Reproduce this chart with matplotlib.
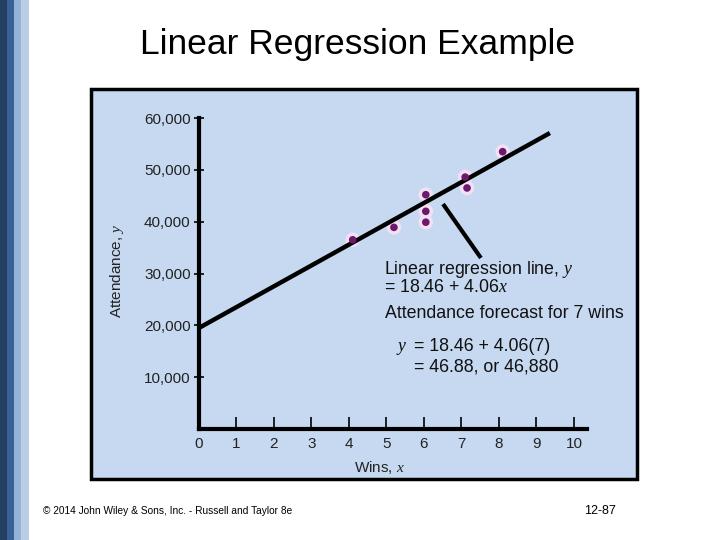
import matplotlib
matplotlib.use("Agg")
import matplotlib.pyplot as plt
from matplotlib.patches import Rectangle

plt.rcParams["font.family"] = ["Liberation Sans", "DejaVu Sans"]
plt.rcParams["mathtext.fontset"] = "custom"
plt.rcParams["mathtext.rm"] = "Liberation Sans"
plt.rcParams["mathtext.it"] = "Liberation Serif:italic"

# data (wins vs attendance)
wins = [4.1, 5.2, 6.05, 6.05, 6.05, 7.1, 7.15, 8.1]
attendance = [36500, 38900, 45200, 42000, 39900, 48600, 46500, 53500]

# regression line end points as drawn
line_x = [0, 9.36]
line_y = [19500, 57100]

x_ticks = list(range(0, 11))
y_ticks = [10000, 20000, 30000, 40000, 50000, 60000]
y_tick_labels = ["10,000", "20,000", "30,000", "40,000", "50,000", "60,000"]

W, H = 720, 540


def px(x, y):
    return x / W, 1 - y / H


fig = plt.figure(figsize=(7.2, 5.4), dpi=100)

# left sidebar stripes
stripes = [(0, 7, "#243f60"), (7, 14, "#3a6195"), (14, 21, "#95b3d7"), (21, 29, "#b9cde5")]
for x0, x1, c in stripes:
    fig.patches.append(Rectangle(px(x0, H), (x1 - x0) / W, 1, transform=fig.transFigure,
                                 facecolor=c, edgecolor="none", zorder=-2))

# light blue panel
fig.patches.append(Rectangle(px(91, 479), (637 - 91) / W, (479 - 89) / H,
                             transform=fig.transFigure, facecolor="#c6d9f1",
                             edgecolor="black", linewidth=2.5, zorder=-2))

ax = fig.add_axes([199 / W, 1 - 429 / H, 388 / W, 311 / H])
ax.patch.set_visible(False)
ax.set_xlim(0, 10.35)
ax.set_ylim(0, 60000)
for s in ["top", "right"]:
    ax.spines[s].set_visible(False)
for s in ["left", "bottom"]:
    ax.spines[s].set_linewidth(3)
    ax.spines[s].set_color("black")

ax.set_xticks(x_ticks)
ax.set_xticklabels([str(v) for v in x_ticks])
ax.set_yticks(y_ticks)
ax.set_yticklabels(y_tick_labels)
ax.tick_params(axis="x", direction="in", length=9, width=1.2, pad=6,
               labelsize=11, labelcolor="#222222")
ax.tick_params(axis="y", direction="inout", length=7, width=1.2, pad=2.5,
               labelsize=11, labelcolor="#222222")

ax.scatter(wins, attendance, s=110, color="#f4e0f4", edgecolors="none", zorder=2, clip_on=False)
ax.plot(line_x, line_y, color="black", linewidth=3.2, solid_capstyle="butt", zorder=3)
ax.scatter(wins, attendance, s=30, color="#6b1a6b", edgecolors="none", zorder=4, clip_on=False)

# pointer from the line to the annotation
ax.plot([6.51, 7.52], [43400, 33000], color="black", linewidth=3, zorder=3,
        solid_capstyle="butt", clip_on=False)

# axis labels
fig.text(*px(380, 467), "Wins, $x$", ha="center", va="center", fontsize=11, color="#222222")
fig.text(*px(117, 271), "Attendance, $y$", ha="center", va="center", rotation=90,
         fontsize=11, color="#222222")

# annotation text
tk = dict(fontsize=12.8, color="#111111", va="baseline", ha="left")
fig.text(*px(384, 274), "Linear regression line, $y$", **tk)
fig.text(*px(384, 292), "= 18.46 + 4.06$x$", **tk)
fig.text(*px(385, 318), "Attendance forecast for 7 wins", **tk)
fig.text(*px(396, 351), "$y$", **tk)
fig.text(*px(414, 351), "= 18.46 + 4.06(7)", **tk)
fig.text(*px(414, 371), "= 46.88, or 46,880", **tk)

# title and footer
fig.text(*px(358, 54), "Linear Regression Example", ha="center", va="baseline", fontsize=25.5)
fig.text(*px(43, 511), "\u00a9 2014 John Wiley & Sons, Inc. - Russell and Taylor 8e",
         ha="left", va="center", fontsize=7.3)
fig.text(*px(600, 511), "12-87", ha="center", va="center", fontsize=9)

fig.savefig("out.png", dpi=100)
